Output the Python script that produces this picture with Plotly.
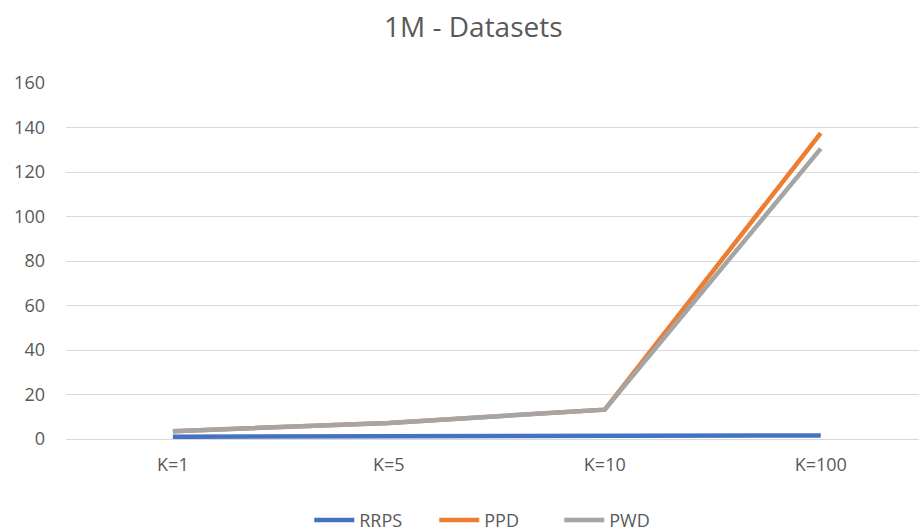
import plotly.graph_objects as go

categories = ["K=1", "K=5", "K=10", "K=100"]
rrps = [1.0, 1.1, 1.3, 1.6]
ppd = [3.5, 7.2, 13.2, 137.5]
pwd = [3.5, 7.2, 13.2, 130.5]

x = list(range(len(categories)))
TXT = "#595959"
FONT = "Open Sans"

fig = go.Figure()
fig.add_trace(go.Scatter(x=x, y=rrps, name="RRPS", mode="lines",
                         line=dict(color="#4472C4", width=4.5)))
fig.add_trace(go.Scatter(x=x, y=ppd, name="PPD", mode="lines",
                         line=dict(color="#ED7D31", width=4.5)))
fig.add_trace(go.Scatter(x=x, y=pwd, name="PWD", mode="lines",
                         line=dict(color="#A5A5A5", width=4.5)))

fig.update_layout(
    width=919, height=531,
    margin=dict(l=66, r=0, t=83, b=92, autoexpand=False),
    paper_bgcolor="white", plot_bgcolor="white",
    font=dict(family=FONT, color=TXT, size=18),
    title=dict(text="1M - Datasets", x=0.515, xanchor="center", y=0.948, yanchor="middle",
               font=dict(family=FONT, size=28, color=TXT)),
    showlegend=True,
    legend=dict(orientation="h", x=0.505, xanchor="center", yref="container", y=0.02,
                yanchor="middle", font=dict(size=18, color=TXT), itemwidth=40,
                traceorder="normal", entrywidth=70, entrywidthmode="pixels"),
    xaxis=dict(range=[-0.495, 3.455], tickmode="array", tickvals=x, ticktext=categories,
               showgrid=False, zeroline=False, showline=False, ticks="",
               ticklabelstandoff=13, fixedrange=True),
    yaxis=dict(range=[0, 160], tickmode="linear", dtick=20, showgrid=True,
               gridcolor="#D9D9D9", gridwidth=1.3, zeroline=True, zerolinecolor="#D9D9D9",
               zerolinewidth=1.3, showline=False, ticks="", ticklabelstandoff=20,
               fixedrange=True),
)

fig.write_html("out.html")
